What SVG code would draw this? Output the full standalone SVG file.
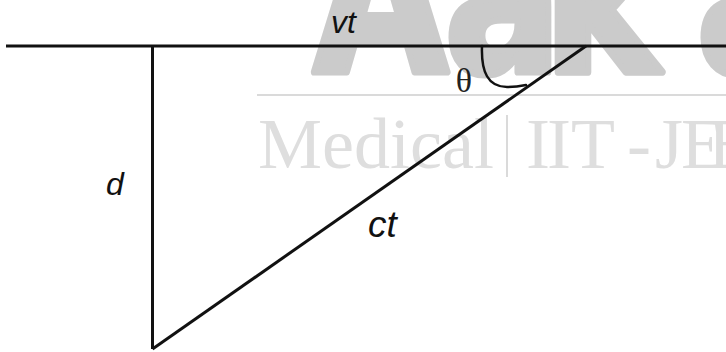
<svg xmlns="http://www.w3.org/2000/svg" width="726" height="352" viewBox="0 0 726 352">
  <style>
    .wm-big { font-family: "DejaVu Sans", sans-serif; font-weight: bold; font-size: 175px; fill: #cbcbcb; stroke: #cbcbcb; stroke-width: 6; stroke-linejoin: round; }
    .wm-sub { font-family: "Liberation Serif", serif; font-size: 72px; fill: #dedede; }
    .wm-line { stroke: #dadada; stroke-width: 2; fill: none; }
    .edge { stroke: #111; stroke-width: 3; fill: none; stroke-linecap: butt; stroke-linejoin: miter; }
    .arc { stroke: #111; stroke-width: 2.5; fill: none; stroke-linecap: round; }
    .lbl { font-family: "Liberation Sans", Arial, sans-serif; font-style: italic; fill: #111; }
    .greek { font-family: "Liberation Serif", "DejaVu Serif", serif; fill: #222; }
  </style>
  <rect x="0" y="0" width="726" height="352" fill="#ffffff"/>
  <g id="watermark">
    <text class="wm-big" transform="matrix(1 0 0 1.2 0 72)" x="313 444 543 696" y="0">Aaka</text>
    <line class="wm-line" x1="257" y1="95" x2="726" y2="95"/>
    <text class="wm-sub" x="258" y="168">Medical</text>
    <line class="wm-line" x1="507" y1="115" x2="507" y2="177"/>
    <text class="wm-sub" x="526 547 571 627 655 681 708" y="168">IIT-JEE</text>
  </g>
  <g id="connectors">
    <line class="edge" x1="6" y1="46" x2="726" y2="46"/>
    <line class="edge" x1="152.5" y1="46" x2="152.5" y2="349"/>
    <line class="edge" x1="152.5" y1="349" x2="586" y2="46"/>
    <path class="arc" d="M482,46 C481,72 488,87 507,87 C515,87 521,86 526,85"/>
  </g>
  <g id="label-vt"><text class="lbl" x="331" y="33" font-size="32">vt</text></g>
  <g id="label-theta"><text class="greek" x="464" y="92" font-size="34" text-anchor="middle">θ</text></g>
  <g id="label-d"><text class="lbl" x="106" y="195" font-size="32">d</text></g>
  <g id="label-ct"><text class="lbl" x="368" y="237" font-size="37">ct</text></g>
</svg>
